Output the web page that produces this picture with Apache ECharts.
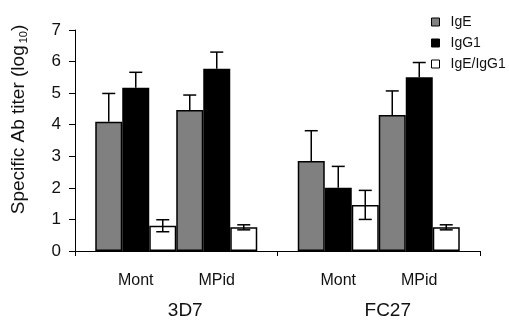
<!DOCTYPE html>
<html>
<head>
<meta charset="utf-8">
<script src="https://cdn.jsdelivr.net/npm/echarts@6/dist/echarts.min.js"></script>
<style>
html, body { margin: 0; padding: 0; background: #fff; }
#chart { width: 509px; height: 320px; }
</style>
</head>
<body>
<div id="chart"></div>
<script>
// parasite lines on the x axis, adjuvant groups under each
var strains = ['3D7', 'FC27'];
var adjuvants = ['Mont', 'MPid'];
var yTicks = [0, 1, 2, 3, 4, 5, 6, 7];

// mean values (log10), one entry per strain
var igeMont = [4.09, 2.85];
var igg1Mont = [5.17, 2.00];
var ratioMont = [0.80, 1.46];
var igeMPid = [4.47, 4.31];
var igg1MPid = [5.77, 5.50];
var ratioMPid = [0.75, 0.75];

// standard deviations
var igeMontErr = [0.90, 0.96];
var igg1MontErr = [0.49, 0.68];
var ratioMontErr = [0.19, 0.46];
var igeMPidErr = [0.47, 0.76];
var igg1MPidErr = [0.53, 0.47];
var ratioMPidErr = [0.08, 0.08];

var FONT = '"Liberation Sans", Arial, sans-serif';
var BAR_W = 27;
var colors = { 'IgE': '#808080', 'IgG1': '#000000', 'IgE/IgG1': '#ffffff' };

// order of bars inside one strain group
var bars = [
  { name: 'IgE', vals: igeMont, err: igeMontErr, both: false },
  { name: 'IgG1', vals: igg1Mont, err: igg1MontErr, both: false, label: adjuvants[0] },
  { name: 'IgE/IgG1', vals: ratioMont, err: ratioMontErr, both: true },
  { name: 'IgE', vals: igeMPid, err: igeMPidErr, both: false },
  { name: 'IgG1', vals: igg1MPid, err: igg1MPidErr, both: false, label: adjuvants[1] },
  { name: 'IgE/IgG1', vals: ratioMPid, err: ratioMPidErr, both: true }
];

var series = [];
var errData = [];
bars.forEach(function (b, k) {
  var s = {
    type: 'bar',
    name: b.name,
    data: b.vals,
    barWidth: BAR_W,
    barGap: '0%',
    itemStyle: { color: colors[b.name], borderColor: '#000', borderWidth: 1.5 }
  };
  if (b.label) {
    s.label = {
      show: true,
      position: 'bottom',
      distance: 22,
      formatter: b.label,
      color: '#111',
      fontSize: 16,
      fontFamily: FONT
    };
  }
  series.push(s);
  for (var i = 0; i < b.vals.length; i++) {
    var lo = b.both ? b.vals[i] - b.err[i] : b.vals[i];
    errData.push([i, k, b.vals[i], lo, b.vals[i] + b.err[i]]);
  }
});

function renderErr(params, api) {
  var cat = api.value(0), k = api.value(1), val = api.value(2);
  var lo = api.value(3), hi = api.value(4);
  var layout = api.barLayout({ barWidth: BAR_W, barGap: '0%', count: bars.length });
  var x = api.coord([cat, val])[0] + layout[k].offsetCenter;
  var yTop = api.coord([cat, hi])[1];
  var yBot = api.coord([cat, lo])[1];
  var half = 6.5;
  var st = { stroke: '#000', lineWidth: 1.5 };
  var kids = [
    { type: 'line', shape: { x1: x, y1: yBot, x2: x, y2: yTop }, style: st },
    { type: 'line', shape: { x1: x - half, y1: yTop, x2: x + half, y2: yTop }, style: st }
  ];
  if (lo < val) {
    kids.push({ type: 'line', shape: { x1: x - half, y1: yBot, x2: x + half, y2: yBot }, style: st });
  }
  return { type: 'group', children: kids };
}

series.push({
  type: 'custom',
  name: 'err',
  renderItem: renderErr,
  data: errData,
  encode: { x: 0, y: 2 },
  z: 5,
  silent: true
});

var chart = echarts.init(document.getElementById('chart'), null, { renderer: 'canvas' });
chart.setOption({
  animation: false,
  backgroundColor: '#fff',
  textStyle: { fontFamily: FONT },
  grid: { left: 75, right: 29, top: 30, bottom: 67 },
  legend: {
    data: ['IgE', 'IgG1', 'IgE/IgG1'],
    orient: 'vertical',
    left: 426,
    top: 9,
    itemWidth: 8,
    itemHeight: 8,
    itemGap: 5,
    icon: 'rect',
    itemStyle: { borderColor: '#000', borderWidth: 1 },
    textStyle: { fontSize: 14, color: '#111', fontFamily: FONT, padding: [0, 0, 0, 6], lineHeight: 16 }
  },
  xAxis: {
    type: 'category',
    data: strains,
    axisLine: { lineStyle: { color: '#000', width: 1 } },
    axisTick: { show: true, length: 5, lineStyle: { color: '#000' } },
    axisLabel: {
      margin: 50,
      color: '#111',
      fontSize: 19,
      fontFamily: FONT,
      padding: [0, 0, 0, 18]
    },
    splitLine: { show: false }
  },
  yAxis: {
    type: 'value',
    min: yTicks[0],
    max: yTicks[yTicks.length - 1],
    interval: 1,
    name: '{a|Specific Ab titer (log}{s|10}{a|)}',
    nameLocation: 'middle',
    nameRotate: 90,
    nameGap: 46,
    nameTextStyle: {
      padding: [0, 0, 0, 42],
      rich: {
        a: { fontSize: 19, color: '#111', fontFamily: FONT },
        s: { fontSize: 11, color: '#111', fontFamily: FONT, padding: [9, 0, 0, 2] }
      }
    },
    axisLine: { show: true, lineStyle: { color: '#000', width: 1 } },
    axisTick: { show: true, length: 6, lineStyle: { color: '#000' } },
    axisLabel: { color: '#111', fontSize: 17, fontFamily: FONT, margin: 14 },
    splitLine: { show: false }
  },
  series: series
});
</script>
</body>
</html>
